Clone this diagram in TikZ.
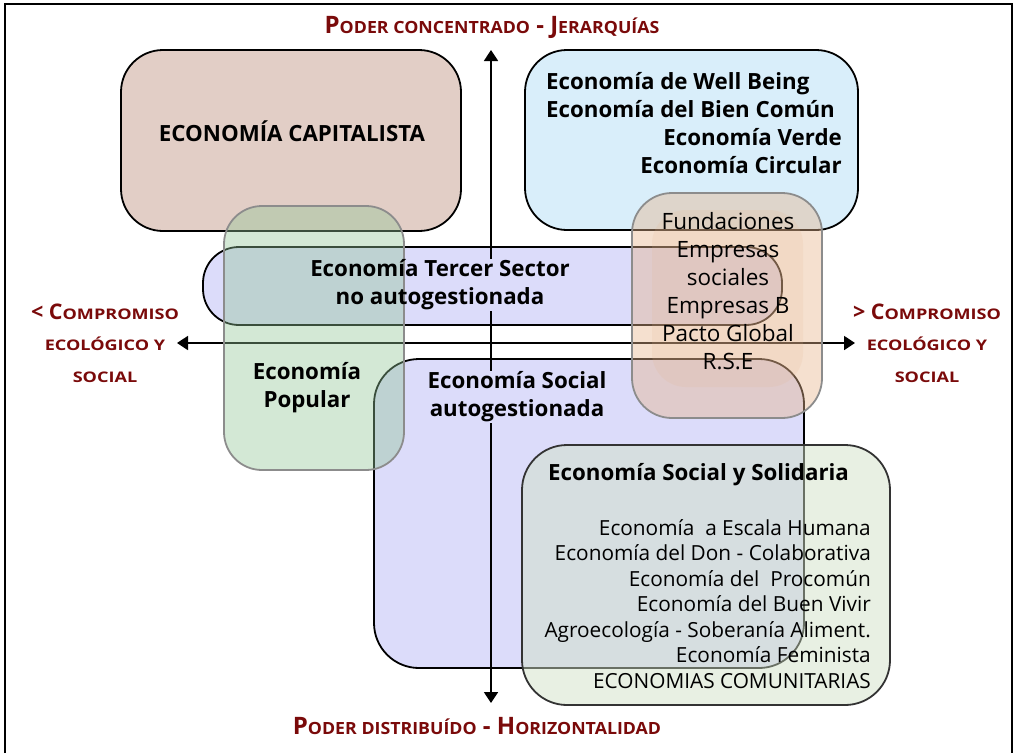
\documentclass[tikz,border=0pt]{standalone}
\usepackage{fontspec}
\setmainfont{Open Sans}
\usetikzlibrary{arrows.meta,positioning}

\definecolor{capfill}{HTML}{E2CEC6}
\definecolor{wellfill}{HTML}{D9EEFA}
\definecolor{autofill}{HTML}{DCDCFA}
\definecolor{popfill}{HTML}{91C596}
\definecolor{rsefill}{HTML}{E6B48C}
\definecolor{essfill}{HTML}{D2E1C8}
\definecolor{axisred}{HTML}{7A0A0A}

\newcommand{\sml}[1]{\scalebox{0.74}[0.7]{#1}}
\newcommand{\smls}[1]{\scalebox{0.84}[0.68]{#1}}

\begin{document}
\begin{tikzpicture}[x=1pt,y=-1pt,
  box/.style={line width=1.8pt, rounded corners=42pt},
  softbox/.style={box, draw=black!45, fill opacity=#1},
  boxtxt/.style={font=\bfseries\fontsize{22.3}{28}\selectfont, align=center, inner sep=1pt},
  listtxt/.style={font=\fontsize{22.5}{28}\selectfont, align=center, inner sep=1pt},
  axlab/.style={text=axisred, font=\bfseries\fontsize{24}{28}\selectfont},
  sidelab/.style={text=axisred, font=\bfseries\fontsize{21.5}{31.5}\selectfont, align=center},
  axis/.style={line width=1.8pt, {Triangle[width=14pt,length=11pt]}-{Triangle[width=14pt,length=11pt]}}]

\useasboundingbox (0,0) rectangle (1024,753);
\draw[line width=1.5pt] (5,753) -- (5,4) -- (1012,4) -- (1012,753);

% upper half
\draw[box, fill=capfill] (121,50) rectangle (461,231);
\draw[box, fill=wellfill] (525,50) rectangle (858,230);
\node[boxtxt] (capital) at (292,131) {ECONOMÍA CAPITALISTA};
\node[boxtxt, align=left, anchor=north west] (wellbeing) at (545,71) {Economía de Well Being\\Economía del Bien Común};
\node[boxtxt, align=right, anchor=north east] (verde) at (843,127) {Economía Verde\\Economía Circular};

% lavender boxes
\draw[box, rounded corners=36pt, fill=autofill] (203,247) rectangle (782,325);
\draw[box, rounded corners=45pt, fill=autofill] (374,359) rectangle (804,668);

% axes
\coordinate (ytop) at (491,50);
\coordinate (ybot) at (491,703);
\coordinate (xleft) at (177,343);
\coordinate (xright) at (855,343);
\draw[axis] (ybot) -- (ytop);
\draw[axis] (xleft) -- (xright);

\node[boxtxt, fill=autofill, text opacity=0] (tercerbg) at (440,285) {Economía Tercer Sector\\no autogestionada};
\node[boxtxt, fill=autofill] (autogest) at (517,397) {Economía Social\\autogestionada};

% popular
\draw[softbox=0.4, fill=popfill, rounded corners=38pt] (224,206) rectangle (404,470);
\node[boxtxt] (popular) at (307,388) {Economía\\Popular};
\node[boxtxt] (tercer) at (tercerbg) {Economía Tercer Sector\\no autogestionada};

% fundaciones
\draw[softbox=0.42, fill=rsefill, rounded corners=40pt] (632,193) rectangle (822,418);
\fill[rsefill, opacity=0.15, rounded corners=34pt] (652,210) rectangle (803,387);
\node[listtxt] (rse) at (728,291) {Fundaciones\\Empresas\\sociales\\Empresas B\\Pacto Global\\R.S.E};

% economia social y solidaria
\draw[box, draw=black!80, fill=essfill, fill opacity=0.5, rounded corners=45pt] (522,445) rectangle (890,705);
\node[boxtxt, anchor=west] (ess) at (547,475) {Economía Social y Solidaria};
\node[listtxt, font=\fontsize{20.8}{25.5}\selectfont, align=right, anchor=east] (esslist) at (872,604)
  {Economía\ \ a Escala Humana\\Economía del Don - Colaborativa\\Economía del\ \ Procomún\\Economía del Buen Vivir\\Agroecología - Soberanía Aliment.\\Economía Feminista\\ECONOMIAS COMUNITARIAS};

% axis labels
\node[axlab] (toplab) at (492,27) {P\sml{ODER CONCENTRADO} - J\sml{ERARQUÍAS}};
\node[axlab] (botlab) at (477,726) {P\sml{ODER DISTRIBUÍDO} - H\sml{ORIZONTALIDAD}};
\node[sidelab] (leftlab) at (105,343) {< C\smls{OMPROMISO}\\\smls{ECOLÓGICO Y}\\\smls{SOCIAL}};
\node[sidelab] (rightlab) at (927,343) {> C\smls{OMPROMISO}\\\smls{ECOLÓGICO Y}\\\smls{SOCIAL}};
\end{tikzpicture}
\end{document}
